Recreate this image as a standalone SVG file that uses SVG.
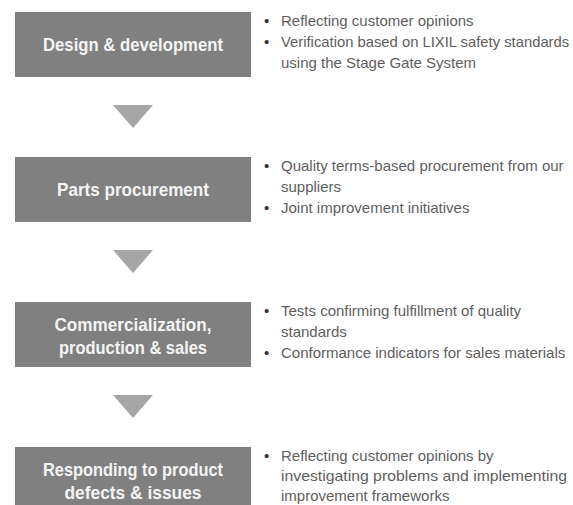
<svg xmlns="http://www.w3.org/2000/svg" width="573" height="505" viewBox="0 0 573 505">
<style>
.box{fill:#808080}
.tri{fill:#a6a6a6}
.bt{font-family:"Liberation Sans",Arial,sans-serif;font-weight:bold;font-size:18.5px;fill:#f4f4f4;text-anchor:middle}
.dt{font-family:"Liberation Sans",Arial,sans-serif;font-size:15px;fill:#5e5e5e}
.bu{font-family:"Liberation Sans",Arial,sans-serif;font-size:15px;fill:#333}
</style>
<rect width="573" height="505" fill="#ffffff"/>
<g id="connectors">
<polygon class="tri" points="113,105 153,105 133,128"/>
<polygon class="tri" points="113,250 153,250 133,273"/>
<polygon class="tri" points="113,395 153,395 133,418"/>
</g>
<g id="node-design">
<rect class="box" x="15" y="12" width="236" height="65"/>
<text class="bt" x="133" y="51" textLength="180" lengthAdjust="spacingAndGlyphs">Design &amp; development</text>
<text class="bu" x="264" y="26">•</text>
<text class="dt" x="281" y="26">Reflecting customer opinions</text>
<text class="bu" x="264" y="47">•</text>
<text class="dt" x="281" y="47" style="font-size:14.8px">Verification based on LIXIL safety standards</text>
<text class="dt" x="281" y="68">using the Stage Gate System</text>
</g>
<g id="node-parts">
<rect class="box" x="15" y="157" width="236" height="65"/>
<text class="bt" x="133" y="196" textLength="152" lengthAdjust="spacingAndGlyphs">Parts procurement</text>
<text class="bu" x="264" y="171">•</text>
<text class="dt" x="281" y="171">Quality terms-based procurement from our</text>
<text class="dt" x="281" y="192">suppliers</text>
<text class="bu" x="264" y="213">•</text>
<text class="dt" x="281" y="213">Joint improvement initiatives</text>
</g>
<g id="node-commercial">
<rect class="box" x="15" y="302" width="236" height="65"/>
<text class="bt" x="133" y="331" textLength="157" lengthAdjust="spacingAndGlyphs">Commercialization,</text>
<text class="bt" x="133" y="354" textLength="148" lengthAdjust="spacingAndGlyphs">production &amp; sales</text>
<text class="bu" x="264" y="316">•</text>
<text class="dt" x="281" y="316">Tests confirming fulfillment of quality</text>
<text class="dt" x="281" y="337">standards</text>
<text class="bu" x="264" y="358">•</text>
<text class="dt" x="281" y="358">Conformance indicators for sales materials</text>
</g>
<g id="node-defects">
<rect class="box" x="15" y="447" width="236" height="65"/>
<text class="bt" x="133" y="476" textLength="180" lengthAdjust="spacingAndGlyphs">Responding to product</text>
<text class="bt" x="133" y="499" textLength="137" lengthAdjust="spacingAndGlyphs">defects &amp; issues</text>
<text class="bu" x="264" y="461">•</text>
<text class="dt" x="281" y="461">Reflecting customer opinions by</text>
<text class="dt" x="281" y="481" textLength="286" lengthAdjust="spacingAndGlyphs">investigating problems and implementing</text>
<text class="dt" x="281" y="501">improvement frameworks</text>
</g>
</svg>
